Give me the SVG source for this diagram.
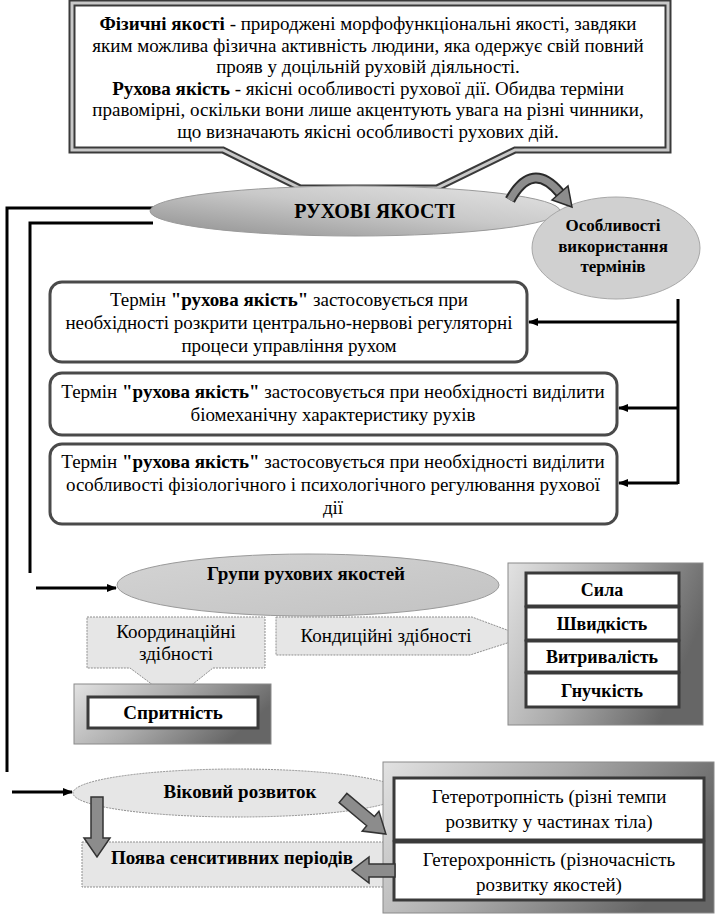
<svg xmlns="http://www.w3.org/2000/svg" width="728" height="916" viewBox="0 0 728 916" font-family="'Liberation Serif', 'DejaVu Serif', serif">
<defs>
<style>
text{font-family:'Liberation Serif','DejaVu Serif',serif;font-size:19px;fill:#000;text-anchor:middle}
.b{font-weight:bold}
.cl{font-size:18px;font-weight:bold}
.conn{fill:none;stroke:#000;stroke-width:3}
.rbox{fill:#fff;stroke:#4a4a4a;stroke-width:3}
.cell{fill:#fff;stroke:#3a3a3a;stroke-width:3}
.frame{fill:url(#gFrame);stroke:#8a8a8a;stroke-width:1}
.blk{fill:#8c8c8c;stroke:#333;stroke-width:1.5}
.light{fill:#e6e6e6;stroke:#8f8f8f;stroke-width:1;stroke-dasharray:2 1}
</style>
<linearGradient id="gRuh" x1="0" y1="1" x2="1" y2="0">
<stop offset="0" stop-color="#8e8e8e"/><stop offset="0.55" stop-color="#c9c9c9"/><stop offset="1" stop-color="#e4e4e4"/>
</linearGradient>
<linearGradient id="gGroup" x1="0" y1="0" x2="1" y2="1">
<stop offset="0" stop-color="#d4d4d4"/><stop offset="1" stop-color="#c2c2c2"/>
</linearGradient>
<linearGradient id="gFrame" x1="0" y1="0" x2="1" y2="0.35">
<stop offset="0" stop-color="#e2e2e2"/><stop offset="0.5" stop-color="#ababab"/><stop offset="1" stop-color="#666"/>
</linearGradient>
<marker id="ah" markerWidth="10" markerHeight="8" refX="9" refY="4" orient="auto" markerUnits="userSpaceOnUse"><path d="M0,0 L10,4 L0,8 Z" fill="#000"/></marker>
</defs>

<g id="definitions">
<path d="M72,3 H668 V150 H515 L437,188 H300 L223,150 H72 Z" fill="#fff" stroke="#3a3a3a" stroke-width="7" stroke-linejoin="miter"/>
<path d="M72,3 H668 V150 H515 L437,188 H300 L223,150 H72 Z" fill="none" stroke="#c8c8c8" stroke-width="3"/>
<text x="368" y="30"><tspan class="b">Фізичні якості</tspan> - природжені морфофункціональні якості, завдяки</text>
<text x="368" y="52">яким можлива фізична активність людини, яка одержує свій повний</text>
<text x="368" y="73">прояв у доцільній руховій діяльності.</text>
<text x="368" y="95"><tspan class="b">Рухова якість</tspan> - якісні особливості рухової дії. Обидва терміни</text>
<text x="368" y="116">правомірні, оскільки вони лише акцентують увага на різні чинники,</text>
<text x="368" y="138">що визначають якісні особливості рухових дій.</text>
</g>

<g id="connectors">
<polyline class="conn" points="153,208 7,208 7,772"/>
<polyline class="conn" points="153,223 30,223 30,573"/>
<line class="conn" x1="36" y1="588" x2="116" y2="588" marker-end="url(#ah)"/>
<line class="conn" x1="12" y1="792" x2="72" y2="792" marker-end="url(#ah)"/>
<line class="conn" x1="678" y1="299" x2="678" y2="484"/>
<line class="conn" x1="678" y1="322" x2="529" y2="322" marker-end="url(#ah)"/>
<line class="conn" x1="678" y1="408" x2="619" y2="408" marker-end="url(#ah)"/>
<line class="conn" x1="678" y1="483" x2="619" y2="483" marker-end="url(#ah)"/>
</g>

<g id="motor-qualities">
<ellipse cx="355" cy="211" rx="205" ry="25" fill="url(#gRuh)" stroke="#9a9a9a" stroke-width="1"/>
<text class="b" x="375" y="218" style="font-size:20px">РУХОВІ ЯКОСТІ</text>
</g>

<g id="term-usage">
<ellipse cx="616" cy="248" rx="84" ry="51" fill="#d0d0d0" stroke="#a8a8a8" stroke-width="1"/>
<text class="b" x="613" y="231" style="font-size:17px">Особливості</text>
<text class="b" x="613" y="252" style="font-size:17px">використання</text>
<text class="b" x="613" y="272" style="font-size:17px">термінів</text>
</g>

<g id="curved-arrow">
<path d="M510,200 Q532,160 560,193" fill="none" stroke="#2a2a2a" stroke-width="11"/>
<path d="M510,200 Q532,160 560,193" fill="none" stroke="#8c8c8c" stroke-width="7"/>
<polygon points="552,200 568,186 572,207" fill="#8c8c8c" stroke="#2a2a2a" stroke-width="1.5"/>
</g>

<g id="term-1">
<rect class="rbox" x="50" y="282" width="477" height="80" rx="12"/>
<text x="289" y="306">Термін <tspan class="b">"рухова якість"</tspan> застосовується при</text>
<text x="289" y="329">необхідності розкрити центрально-нервові регуляторні</text>
<text x="289" y="352">процеси управління рухом</text>
</g>

<g id="term-2">
<rect class="rbox" x="50" y="373" width="567" height="62" rx="12"/>
<text x="333" y="398">Термін <tspan class="b">"рухова якість"</tspan> застосовується при необхідності виділити</text>
<text x="333" y="421">біомеханічну характеристику рухів</text>
</g>

<g id="term-3">
<rect class="rbox" x="50" y="444" width="567" height="80" rx="12"/>
<text x="333" y="468">Термін <tspan class="b">"рухова якість"</tspan> застосовується при необхідності виділити</text>
<text x="333" y="491">особливості фізіологічного і психологічного регулювання рухової</text>
<text x="333" y="514">дії</text>
</g>

<g id="groups">
<ellipse cx="308" cy="585" rx="191" ry="31" fill="url(#gGroup)" stroke="#9a9a9a" stroke-width="1"/>
<text class="b" x="306" y="580">Групи рухових якостей</text>
</g>

<g id="coordination">
<path class="light" d="M87,617 H265 V668 H213 L173,700 L130,668 H87 Z"/>
<text x="176" y="638">Координаційні</text>
<text x="176" y="660">здібності</text>
</g>

<g id="conditional">
<path class="light" d="M276,617 H472 L526,637 L470,655 H276 Z"/>
<text x="386" y="642">Кондиційні здібності</text>
</g>

<g id="agility">
<rect class="frame" x="74" y="684" width="197" height="60"/>
<rect class="cell" x="88" y="697" width="170" height="31"/>
<text class="b" x="173" y="719">Спритність</text>
</g>

<g id="conditional-list">
<rect class="frame" x="508" y="563" width="195" height="162"/>
<rect class="cell" x="526" y="573" width="153" height="33"/>
<rect class="cell" x="526" y="607" width="153" height="33"/>
<rect class="cell" x="526" y="641" width="153" height="31"/>
<rect class="cell" x="526" y="673" width="153" height="34"/>
<text class="cl" x="602" y="596">Сила</text>
<text class="cl" x="602" y="630">Швидкість</text>
<text class="cl" x="602" y="663">Витривалість</text>
<text class="cl" x="602" y="697">Гнучкість</text>
</g>

<g id="sensitive-periods">
<rect class="light" x="82" y="842" width="320" height="45"/>
<text class="b" x="232" y="864">Поява сенситивних періодів</text>
</g>

<g id="age-development">
<ellipse class="light" cx="238" cy="793" rx="165" ry="24"/>
<text class="b" x="240" y="798">Віковий розвиток</text>
</g>

<g id="heterogeneity">
<rect class="frame" x="383" y="762" width="331" height="151"/>
<rect class="cell" x="394" y="778" width="310" height="62"/>
<rect class="cell" x="394" y="842" width="310" height="58"/>
<text x="549" y="803">Гетеротропність (різні темпи</text>
<text x="549" y="828">розвитку у частинах тіла)</text>
<text x="549" y="866">Гетерохронність (різночасність</text>
<text x="549" y="891">розвитку якостей)</text>
</g>

<g id="block-arrows">
<polygon class="blk" points="91,797 103,797 103,838 110,838 97,857 84,838 91,838"/>
<polygon class="blk" transform="translate(343,798) rotate(40)" points="0,-6 36,-6 36,-13 56,0 36,13 36,6 0,6"/>
<polygon class="blk" points="395,864 369,864 369,857 352,870 369,883 369,877 395,877"/>
</g>
</svg>
